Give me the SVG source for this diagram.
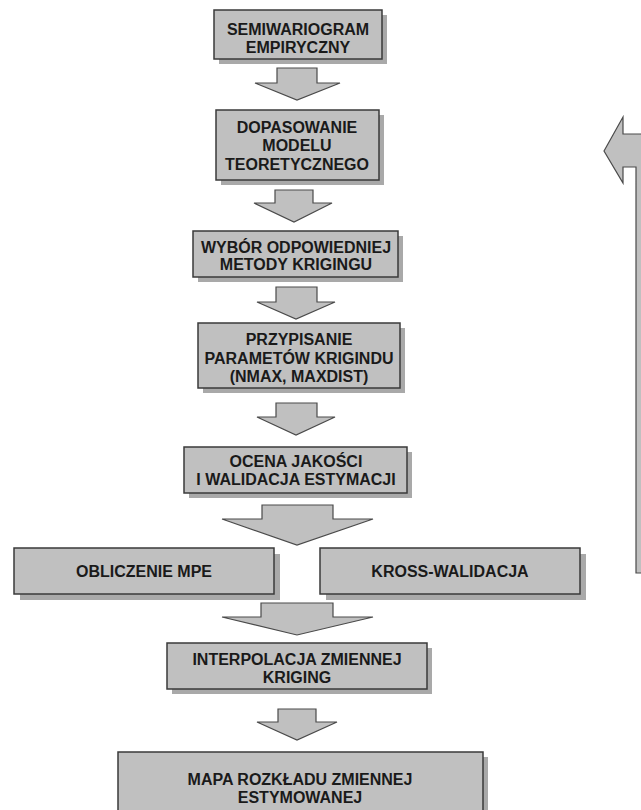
<svg xmlns="http://www.w3.org/2000/svg" width="641" height="810" viewBox="0 0 641 810">
  <style>
    .shadow { fill: #a9a9a9; }
    .box { fill: #c0c0c0; stroke: #3a3a3a; stroke-width: 1.5; }
    .arrow { fill: #c0c0c0; stroke: #4a4a4a; stroke-width: 1.2; stroke-linejoin: miter; }
    .lbl { font-family: "Liberation Sans", Arial, sans-serif; font-weight: bold; font-size: 16px; fill: #1a1a1a; text-anchor: middle; }
  </style>
  <rect x="0" y="0" width="641" height="810" fill="#ffffff"/>

  <!-- flow connectors -->
  <g id="connectors">
    <polygon class="arrow" points="277,68 317,68 317,83 340,83 297,100 255,83 277,83"/>
    <polygon class="arrow" points="275,190 313,190 313,203 332,203 294,222 254,203 275,203"/>
    <polygon class="arrow" points="276,287 317,287 317,302 335,302 296,319 257,302 276,302"/>
    <polygon class="arrow" points="276,403 317,403 317,417 335,417 296,435 257,417 276,417"/>
    <polygon class="arrow" points="262,505 333,505 333,519 373,519 297,545 222,519 262,519"/>
    <polygon class="arrow" points="261,603 333,603 333,617 373,617 297,635 222,617 261,617"/>
    <polygon class="arrow" points="278,709 316,709 316,722 337,722 297,740 257,722 278,722"/>
    <!-- feedback arrow on the right edge -->
    <polygon class="arrow" points="604,151 623,117 623,134 650,134 650,573 636,573 636,167 623,167 623,183"/>
  </g>

  <g id="semiwariogram">
    <rect class="shadow" x="219" y="15" width="168" height="49"/>
    <rect class="box" x="214" y="10" width="168" height="49"/>
    <text class="lbl" x="298" y="35">SEMIWARIOGRAM</text>
    <text class="lbl" x="298" y="53">EMPIRYCZNY</text>
  </g>

  <g id="dopasowanie">
    <rect class="shadow" x="221" y="115" width="163" height="70"/>
    <rect class="box" x="216" y="110" width="163" height="70"/>
    <text class="lbl" x="297" y="133">DOPASOWANIE</text>
    <text class="lbl" x="297" y="151">MODELU</text>
    <text class="lbl" x="297" y="170">TEORETYCZNEGO</text>
  </g>

  <g id="wybor">
    <rect class="shadow" x="198" y="236" width="205" height="46"/>
    <rect class="box" x="193" y="231" width="205" height="46"/>
    <text class="lbl" x="296" y="253">WYBÓR ODPOWIEDNIEJ</text>
    <text class="lbl" x="296" y="270">METODY KRIGINGU</text>
  </g>

  <g id="przypisanie">
    <rect class="shadow" x="203" y="328" width="202" height="65"/>
    <rect class="box" x="198" y="323" width="202" height="65"/>
    <text class="lbl" x="299" y="345">PRZYPISANIE</text>
    <text class="lbl" x="299" y="364">PARAMETÓW KRIGINDU</text>
    <text class="lbl" x="299" y="382">(NMAX, MAXDIST)</text>
  </g>

  <g id="ocena">
    <rect class="shadow" x="189" y="452" width="223" height="46"/>
    <rect class="box" x="184" y="447" width="223" height="46"/>
    <text class="lbl" x="296" y="467">OCENA JAKOŚCI</text>
    <text class="lbl" x="296" y="485">I WALIDACJA ESTYMACJI</text>
  </g>

  <g id="mpe">
    <rect class="shadow" x="20" y="554" width="260" height="46"/>
    <rect class="box" x="14" y="548" width="260" height="46"/>
    <text class="lbl" x="144" y="577">OBLICZENIE MPE</text>
  </g>

  <g id="kross">
    <rect class="shadow" x="326" y="554" width="260" height="46"/>
    <rect class="box" x="320" y="548" width="260" height="46"/>
    <text class="lbl" x="450" y="577">KROSS-WALIDACJA</text>
  </g>

  <g id="interpolacja">
    <rect class="shadow" x="172" y="648" width="260" height="46"/>
    <rect class="box" x="167" y="643" width="260" height="46"/>
    <text class="lbl" x="297" y="665">INTERPOLACJA ZMIENNEJ</text>
    <text class="lbl" x="297" y="683">KRIGING</text>
  </g>

  <g id="mapa">
    <rect class="shadow" x="123" y="757" width="365" height="70"/>
    <rect class="box" x="118" y="752" width="365" height="70"/>
    <text class="lbl" x="300" y="785">MAPA ROZKŁADU ZMIENNEJ</text>
    <text class="lbl" x="300" y="803">ESTYMOWANEJ</text>
  </g>
</svg>
